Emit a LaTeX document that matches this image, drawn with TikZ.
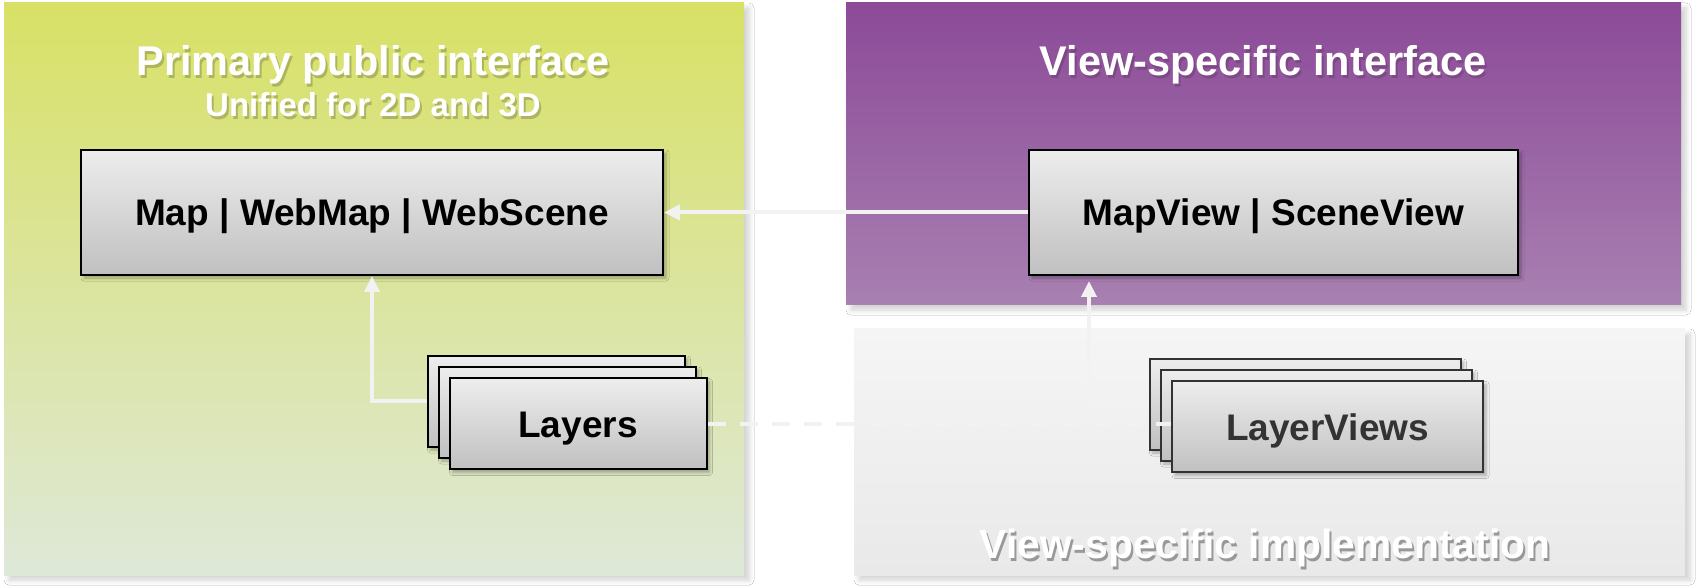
\documentclass[tikz,border=0pt]{standalone}
\usepackage{fontspec}
\setmainfont{Liberation Sans}
\usetikzlibrary{arrows.meta,shadows.blur}
\definecolor{ylwtop}{HTML}{D8E165}
\definecolor{ylwmid}{HTML}{D2DC96}
\definecolor{ylwbot}{HTML}{DEE8D8}
\definecolor{purtop}{HTML}{8C4A98}
\definecolor{purbot}{HTML}{A880B1}
\definecolor{grytop}{HTML}{F5F5F5}
\definecolor{grybot}{HTML}{E9E9E9}
\definecolor{boxtop}{HTML}{EDEDED}
\definecolor{boxbot}{HTML}{C0C0C0}
\definecolor{linkcol}{HTML}{F2F2F2}
\definecolor{lvtext}{HTML}{333333}
\tikzset{
  panelshadow/.style={blur shadow={shadow xshift=2.5pt,shadow yshift=-2.5pt,shadow blur radius=2.5pt,shadow blur steps=6,shadow opacity=18}},
  card/.style={draw=black,line width=1pt,top color=boxtop,bottom color=boxbot,inner sep=0pt,
    blur shadow={shadow xshift=1.5pt,shadow yshift=-1.5pt,shadow blur radius=1.5pt,shadow blur steps=5,shadow opacity=30},
    text height=13.3pt,text depth=0pt,font=\fontsize{18.5}{22}\selectfont\bfseries},
  maincard/.style={card,minimum height=62.5pt},
  layercard/.style={card,minimum width=128.5pt,minimum height=45.5pt},
  lvcard/.style={card,draw=lvtext,text=lvtext,minimum width=155.5pt,minimum height=45.5pt},
  title/.style={text=white,anchor=base,inner sep=0pt,font=\fontsize{20.75}{24}\selectfont\bfseries},
  subtitle/.style={text=white,anchor=base,inner sep=0pt,font=\fontsize{16.5}{20}\selectfont\bfseries},
  tshadow/.style={text=black,text opacity=#1,xshift=1pt,yshift=-1.5pt},
  link/.style={draw=linkcol,line width=2pt,-{Triangle[length=8pt,width=7.5pt]}},
  dashlink/.style={draw=linkcol,line width=2pt,dash pattern=on 9pt off 7pt}
}
\begin{document}
\begin{tikzpicture}[x=0.5pt,y=-0.5pt]
\useasboundingbox (0,0) rectangle (1699,588);
\fill[white] (0,0) rectangle (1699,588);
% panels
\path[panelshadow,top color=ylwtop,middle color=ylwmid,bottom color=ylwbot] (4,3) rectangle (744,575);
\path[panelshadow,top color=purtop,bottom color=purbot] (846,3) rectangle (1681,305);
\path[panelshadow,top color=grytop,bottom color=grybot] (854,329) rectangle (1685,575);
% titles
\node[title,tshadow=0.2] (t1s) at (373,76) {Primary public interface};
\node[title] (t1) at (373,76) {Primary public interface};
\node[subtitle,tshadow=0.2] (t2s) at (373,117) {Unified for 2D and 3D};
\node[subtitle] (t2) at (373,117) {Unified for 2D and 3D};
\node[title,tshadow=0.15] (t3s) at (1263,76) {View-specific interface};
\node[title] (t3) at (1263,76) {View-specific interface};
\node[title,font=\fontsize{20.4}{24}\selectfont\bfseries,tshadow=0.35] (t4s) at (1265,558) {View-specific implementation};
\node[title,font=\fontsize{20.4}{24}\selectfont\bfseries] (t4) at (1265,558) {View-specific implementation};
% main boxes
\node[maincard,minimum width=291pt] (map) at (372,212.5) {Map | WebMap | WebScene};
\node[maincard,minimum width=244.5pt] (view) at (1273.5,212.5) {MapView | SceneView};
% layers stack
\node[layercard] (lay3) at (556,401.5) {};
\node[layercard] (lay2) at (567,412.5) {};
\node[layercard] (lay1) at (578,424) {Layers};
% layer views stack
\node[lvcard] (lv3) at (1305,404.5) {};
\node[lvcard] (lv2) at (1316,415.5) {};
\node[lvcard] (lv1) at (1327.5,427) {LayerViews};
% connectors
\coordinate (c1) at (372,401.5);
\coordinate (c2) at (1089,404.5);
\draw[link] (view.west) -- (map.east);
\draw[link] (lay3.west) -- (c1) -- (map.south -| c1);
\draw[link,shorten >=2.5pt] (lv3.west) -- (c2) -- (view.south -| c2);
\draw[dashlink] (lay1.east) -- (lay1.east -| lv1.west);
\end{tikzpicture}
\end{document}
